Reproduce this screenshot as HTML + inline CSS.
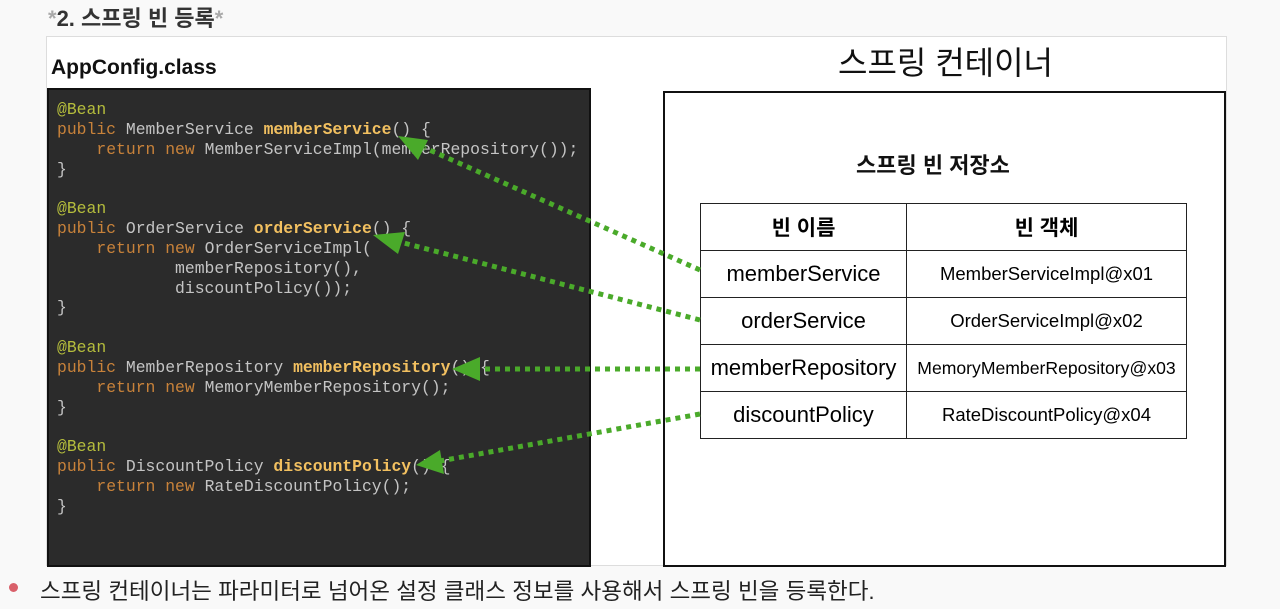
<!DOCTYPE html>
<html><head><meta charset="utf-8"><style>
body{margin:0;width:1280px;height:609px;background:#f9f9f9;position:relative;overflow:hidden;font-family:"Liberation Sans","Noto Sans CJK KR",sans-serif}
.abs{position:absolute}
pre{margin:0;font-family:"Liberation Mono",monospace;font-size:16.4px;line-height:19.85px;color:#c4c4c4}
.a{color:#b5bd3c}.k{color:#c8823a}.m{color:#f2c060;font-weight:bold}
table{border-collapse:collapse;position:absolute;left:700px;top:203px;width:487px}
td{border:1.5px solid #222;text-align:center;height:46px;padding:0}
</style></head><body>
<div class="abs" style="left:48px;top:1px;font-size:22px;font-weight:bold;color:#333"><span style="color:#aaa">*</span>2. 스프링 빈 등록<span style="color:#aaa">*</span></div>
<div class="abs" style="left:46px;top:36px;width:1179px;height:528px;border:1px solid #ddd;background:#fff"></div>
<div class="abs" style="left:51px;top:56px;font-size:21px;font-weight:bold;color:#111">AppConfig.class</div>
<div class="abs" style="left:47px;top:88px;width:540px;height:475px;background:#2b2b2b;border:2px solid #111"></div>
<pre class="abs" style="left:57px;top:100px"><span class="a">@Bean</span>
<span class="k">public</span> MemberService <span class="m">memberService</span>() {
    <span class="k">return new</span> MemberServiceImpl(memberRepository());
}

<span class="a">@Bean</span>
<span class="k">public</span> OrderService <span class="m">orderService</span>() {
    <span class="k">return new</span> OrderServiceImpl(
            memberRepository(),
            discountPolicy());
}

<span class="a">@Bean</span>
<span class="k">public</span> MemberRepository <span class="m">memberRepository</span>() {
    <span class="k">return new</span> MemoryMemberRepository();
}

<span class="a">@Bean</span>
<span class="k">public</span> DiscountPolicy <span class="m">discountPolicy</span>() {
    <span class="k">return new</span> RateDiscountPolicy();
}</pre>
<div class="abs" style="left:838px;top:38px;font-size:32px;color:#111">스프링 컨테이너</div>
<div class="abs" style="left:663px;top:91px;width:559px;height:472px;border:2px solid #111;background:#fff"></div>
<div class="abs" style="left:856px;top:148px;font-size:22px;font-weight:bold;color:#111">스프링 빈 저장소</div>
<table>
<tr><td style="width:205px;font-weight:bold;font-size:21px">빈 이름</td><td style="font-weight:bold;font-size:21px">빈 객체</td></tr>
<tr><td style="font-size:22px">memberService</td><td style="font-size:18.5px">MemberServiceImpl@x01</td></tr>
<tr><td style="font-size:22px">orderService</td><td style="font-size:18.5px">OrderServiceImpl@x02</td></tr>
<tr><td style="font-size:22px">memberRepository</td><td style="font-size:17.6px">MemoryMemberRepository@x03</td></tr>
<tr><td style="font-size:22px">discountPolicy</td><td style="font-size:18.5px">RateDiscountPolicy@x04</td></tr>
</table>
<svg class="abs" style="left:0;top:0" width="1280" height="609">
<g stroke="#4aaa2a" stroke-width="5" stroke-dasharray="5 5" fill="none">
<line x1="700" y1="270" x2="425" y2="148"/>
<line x1="700" y1="320" x2="400" y2="242"/>
<line x1="700" y1="369" x2="478" y2="369"/>
<line x1="700" y1="414" x2="440" y2="461"/>
</g>
<g fill="#4aaa2a">
<polygon points="398,136 428,140 418,160"/>
<polygon points="373,235 405,232 398,254"/>
<polygon points="452,369 480,357 480,381"/>
<polygon points="416,465 440,450 444,474"/>
</g>
</svg>
<div class="abs" style="left:9px;top:583px;width:9px;height:9px;border-radius:50%;background:#d9606a"></div>
<div class="abs" style="left:40px;top:574px;font-size:22.5px;color:#222">스프링 컨테이너는 파라미터로 넘어온 설정 클래스 정보를 사용해서 스프링 빈을 등록한다.</div>
</body></html>
